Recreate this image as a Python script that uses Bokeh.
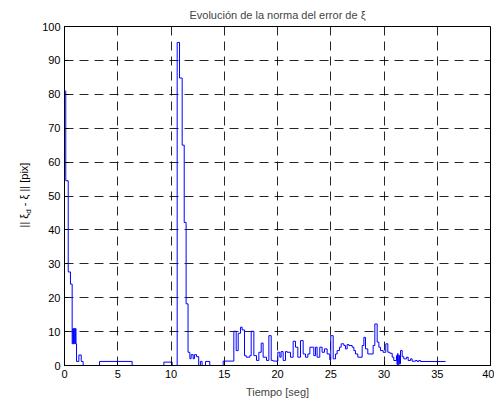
from bokeh.plotting import figure
from bokeh.models import Range1d, FixedTicker, Div
from bokeh.layouts import row
from bokeh.embed import file_html
from bokeh.resources import INLINE

# step start times [s] and error norm values [pix]
t = [0.0, 0.12, 0.35, 0.56, 0.72, 0.78, 0.84, 0.90, 0.96, 1.02, 1.08, 1.13, 1.35, 1.57, 1.75,
     3.29, 6.35, 9.33, 10.11, 10.58, 10.80, 11.05, 11.24, 11.42, 11.60, 11.77, 11.89, 12.08,
     12.20, 12.40, 12.60, 12.76, 12.92, 13.24, 13.64, 14.90, 15.90, 16.12, 16.31, 16.53, 16.68,
     16.90, 17.06, 17.40, 17.53, 17.78, 18.03, 18.25, 18.47, 18.65, 18.97, 19.19, 19.41, 19.59,
     20.03, 20.22, 20.34, 20.53, 20.75, 20.91, 21.22, 21.47, 21.69, 21.91, 22.16, 22.41, 22.63,
     22.85, 23.04, 23.41, 23.57, 23.72, 23.97, 24.19, 24.41, 24.66, 24.91, 25.00, 25.23, 25.45,
     25.60, 25.82, 25.98, 26.23, 26.38, 26.54, 26.70, 27.01, 27.17, 27.32, 27.54, 27.95, 28.11,
     28.26, 28.48, 28.98, 29.14, 29.36, 29.52, 29.67, 29.92, 30.17, 30.36, 30.55, 30.77, 30.92,
     31.17, 31.22, 31.27, 31.32, 31.39, 31.45, 31.55, 31.71, 31.86, 32.11, 32.27, 32.49, 32.64,
     32.96, 33.12, 33.27, 33.43, 35.78]
err = [81.0, 54.5, 27.6, 24.0, 6.4, 10.9, 6.4, 10.9, 6.4, 10.9, 6.4, 1.2, 3.1, 1.2, 0.0,
       1.2, 0.0, 1.0, 0.0, 95.3, 84.8, 65.0, 42.2, 18.2, 3.9, 2.0, 3.2, 2.0,
       3.2, 2.6, 0.0, 1.2, 0.0, 1.2, 0.0, 1.3, 10.1, 4.4, 9.5, 11.3, 10.5,
       2.9, 2.45, 2.9, 10.1, 2.9, 1.5, 3.9, 6.6, 2.45, 1.5, 8.8, 1.5, 1.3,
       3.9, 2.45, 4.1, 1.5, 4.1, 3.9, 2.45, 7.15, 5.4, 2.45, 7.35, 3.4, 2.45,
       3.4, 5.4, 2.9, 5.4, 2.45, 5.4, 3.9, 4.9, 3.4, 1.67, 8.8, 1.96, 3.4,
       4.4, 5.4, 6.4, 5.9, 4.9, 6.2, 5.9, 5.4, 4.4, 3.4, 2.45, 5.9, 8.3,
       4.9, 3.4, 5.9, 12.25, 6.9, 5.4, 4.4, 3.9, 6.4, 3.9, 3.6, 2.45, 1.47,
       2.9, 0.3, 3.5, 0.0, 3.0, 0.5, 4.4, 2.6, 1.96, 2.45, 1.47, 1.96, 1.27,
       1.47, 1.18, 1.47, 1.18, 1.18]

x_ticks = [0, 5, 10, 15, 20, 25, 30, 35, 40]
y_ticks = [0, 10, 20, 30, 40, 50, 60, 70, 80, 90, 100]

FONT = "Liberation Sans"
DIV_W = 32
W, H = 494 - DIV_W, 400

p = figure(width=W, height=H, output_backend="svg", toolbar_location=None,
           x_range=Range1d(0, 40), y_range=Range1d(0, 100),
           min_border_left=64 - DIV_W, min_border_right=4, min_border_top=25, min_border_bottom=35,
           title="Evolución de la norma del error de ξ")

p.title.align = "center"
p.title.text_font = FONT
p.title.text_font_size = "11px"
p.title.text_font_style = "normal"
p.title.standoff = 12
p.title.offset = 0

p.background_fill_color = "white"
p.border_fill_color = "white"
p.outline_line_color = "black"
p.outline_line_width = 1

for ax, ticks in ((p.xaxis, x_ticks), (p.yaxis, y_ticks)):
    ax.ticker = FixedTicker(ticks=ticks)
    ax.major_tick_in = 4
    ax.major_tick_out = 0
    ax.minor_tick_line_color = None
    ax.axis_line_color = "black"
    ax.major_tick_line_color = "black"
    ax.major_label_text_font = FONT
    ax.major_label_text_font_size = "11px"
    ax.major_label_text_color = "black"
    ax.major_label_standoff = 4

p.xaxis.axis_label = "Tiempo [seg]"
p.xaxis.axis_label_text_font = FONT
p.xaxis.axis_label_text_font_size = "11px"
p.xaxis.axis_label_text_font_style = "normal"
p.xaxis.axis_label_standoff = 5

p.xgrid.ticker = FixedTicker(ticks=x_ticks)
p.ygrid.ticker = FixedTicker(ticks=y_ticks)
for g in (p.xgrid, p.ygrid):
    g.grid_line_color = "black"
    g.grid_line_alpha = 0.85
    g.grid_line_dash = "9 6"
    g.grid_line_width = 1

p.step(t, err, mode="after", line_color="#0000ff", line_width=1)

# y-axis label with subscript d, as rotated HTML text
ylabel_html = (
    "<div style=\"position:absolute; left:26px; top:195px; "
    "transform:translate(-50%,-50%) rotate(-90deg); white-space:nowrap; "
    "font-family:'Liberation Sans'; font-size:11px; color:black; line-height:1;\">"
    "|| ξ<sub style=\"font-size:8px; vertical-align:-3px;\">d</sub> - ξ || [pix]</div>"
)
ylab = Div(text=ylabel_html, width=DIV_W, height=H, margin=0,
           styles={"position": "relative", "overflow": "visible"})

layout = row(ylab, p, spacing=0, margin=0)

open("out.html", "w").write(file_html(layout, INLINE))
